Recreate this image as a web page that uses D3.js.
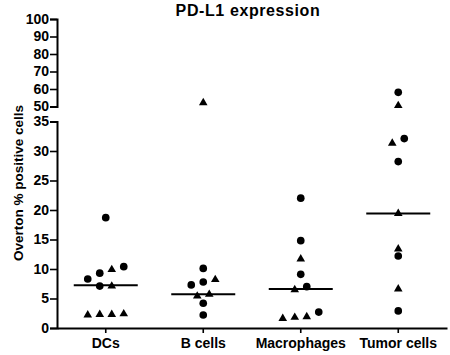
<!DOCTYPE html>
<html>
<head>
<meta charset="utf-8" />
<title>PD-L1 expression</title>
<script src="https://d3js.org/d3.v7.min.js"></script>
<style>
  body { margin: 0; background: #fff; }
  text { font-family: Arial, "Liberation Sans", Helvetica, sans-serif; font-weight: bold; fill: #000; }
</style>
</head>
<body>
<svg></svg>
<script>
// values
const categories = ["DCs", "B cells", "Macrophages", "Tumor cells"];
const circleVals = [
  [18.7, 10.4, 9.3, 8.3, 7.1],
  [10.1, 7.8, 7.3, 4.2, 2.2],
  [22.0, 14.8, 9.1, 7.0, 2.7],
  [58.1, 32.1, 28.2, 12.2, 2.9]
];
const triangleVals = [
  [9.9, 7.1, 2.3, 2.2, 2.3, 2.4],
  [52.2, 8.2, 5.7, 5.4],
  [11.7, 6.5, 1.9, 1.6, 1.8],
  [50.5, 31.3, 19.4, 13.4, 6.6]
];
const medians = [7.25, 5.7, 6.6, 19.4];
const lowTicks = [0, 5, 10, 15, 20, 25, 30, 35];
const highTicks = [50, 60, 70, 80, 90, 100];

const W = 450, H = 355;
const svg = d3.select("svg").attr("width", W).attr("height", H);

// broken y axis: two linear pieces
const yLow = d3.scaleLinear().domain([0, 35]).range([328, 121.5]);
const yHigh = d3.scaleLinear().domain([50, 100]).range([106.5, 19]);
const y = v => v <= 35 ? yLow(v) : yHigh(v);

const x = d3.scaleBand().domain(categories).range([57, 447]).padding(0);

function styleAxis(g) {
  g.select(".domain").attr("stroke", "#000").attr("stroke-width", 2);
  g.selectAll(".tick line").attr("stroke", "#000").attr("stroke-width", 1.6);
  g.selectAll(".tick text").style("font-size", "14px").style("font-weight", "bold")
    .attr("fill", "#000");
}

svg.append("g").attr("transform", "translate(57,0)")
  .call(d3.axisLeft(yLow).tickValues(lowTicks).tickSize(7).tickPadding(1))
  .call(styleAxis);
svg.append("g").attr("transform", "translate(57,0)")
  .call(d3.axisLeft(yHigh).tickValues(highTicks).tickSize(7).tickPadding(1))
  .call(styleAxis);

svg.append("g").attr("transform", "translate(0,328)")
  .call(d3.axisBottom(x).tickSize(5).tickSizeOuter(0).tickPadding(5))
  .call(styleAxis);

// points: group rows of nearby values and spread them sideways
const step = 12;
const points = [];
categories.forEach((c, i) => {
  const pts = circleVals[i].map(v => ({ cat: c, v, shape: "circle" }))
    .concat(triangleVals[i].map(v => ({ cat: c, v, shape: "triangle" })));
  pts.sort((a, b) => a.v - b.v);
  let row = [];
  const flush = () => {
    row.forEach((p, k) => { p.off = (k - (row.length - 1) / 2) * step; });
    row = [];
  };
  pts.forEach(p => {
    if (row.length && Math.abs(y(p.v) - y(row[row.length - 1].v)) > 6.5) flush();
    row.push(p);
  });
  flush();
  points.push(...pts);
});

const circleSym = d3.symbol().type(d3.symbolCircle).size(46);
const triSym = d3.symbol().type(d3.symbolTriangle).size(32);

svg.append("g").selectAll("path")
  .data(points)
  .join("path")
  .attr("d", d => d.shape === "circle" ? circleSym() : triSym())
  .attr("transform", d => `translate(${x(d.cat) + x.bandwidth() / 2 + d.off},${y(d.v)})`)
  .attr("fill", "#000");

// median lines
svg.append("g").selectAll("line")
  .data(categories)
  .join("line")
  .attr("x1", d => x(d) + x.bandwidth() / 2 - 32)
  .attr("x2", d => x(d) + x.bandwidth() / 2 + 32)
  .attr("y1", (d, i) => y(medians[i]))
  .attr("y2", (d, i) => y(medians[i]))
  .attr("stroke", "#000")
  .attr("stroke-width", 2);

svg.append("text")
  .attr("x", 248).attr("y", 16)
  .attr("text-anchor", "middle")
  .style("font-size", "16px")
  .style("letter-spacing", "0.6px")
  .text("PD-L1 expression");

svg.append("text")
  .attr("transform", "translate(23,183) rotate(-90)")
  .attr("text-anchor", "middle")
  .style("font-size", "13.5px")
  .text("Overton % positive cells");
</script>
</body>
</html>
